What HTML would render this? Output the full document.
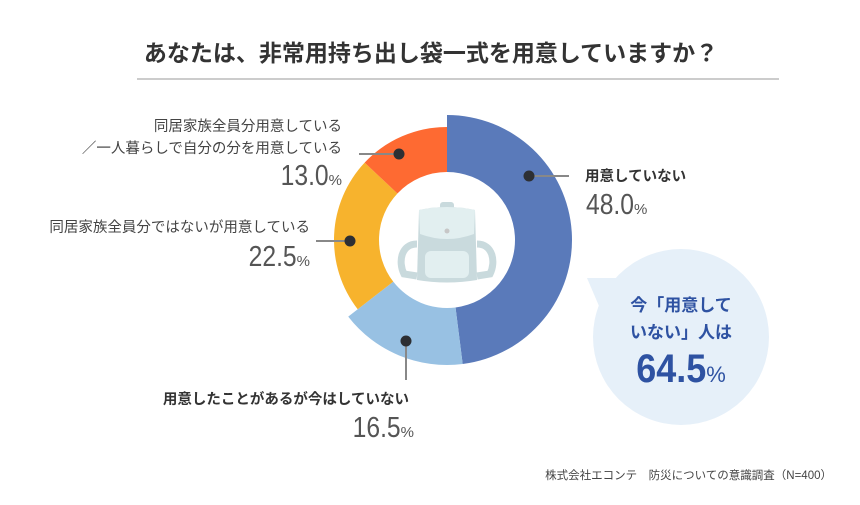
<!DOCTYPE html>
<html><head><meta charset="utf-8">
<style>
body{margin:0;background:#fff;}
svg text{font-family:"Liberation Sans","Noto Sans CJK JP",sans-serif;}
</style></head>
<body>
<svg id="chart" width="860" height="500" viewBox="0 0 860 500" xmlns="http://www.w3.org/2000/svg">
<rect width="860" height="500" fill="#fff"/>
<text x="431" y="61" text-anchor="middle" font-size="23" font-weight="bold" fill="#333">あなたは、非常用持ち出し袋一式を用意していますか？</text>
<line x1="137" y1="79" x2="779" y2="79" stroke="#999" stroke-width="1"/>
<g id="slices"></g>
<g id="icon" transform="translate(447,242)">
 <rect x="-7" y="-40" width="14" height="10" rx="3" fill="#c9dadd"/>
 <path d="M-30,2 C-46,2 -49,20 -43,32 L-30,34 M30,2 C46,2 49,20 43,32 L30,34" stroke="#c9dadd" stroke-width="7" fill="none"/>
 <path d="M-28,-32 Q0,-38 28,-32 L30,38 Q0,43 -30,38 Z" fill="#c9dadd"/>
 <path d="M-28,-32 Q0,-38 28,-32 L27,-8 Q0,2 -27,-8 Z" fill="#e2eff0"/>
 <rect x="-22" y="9" width="44" height="27" rx="6" fill="#e2eff0"/>
 <circle cx="0" cy="-11" r="2.5" fill="#c7c7c7"/>
</g>
<g>
 <circle cx="681" cy="337" r="88" fill="#e6f0f9"/>
 <path d="M587,278 L625,278 L605,320 Z" fill="#e6f0f9"/>
 <text x="681" y="311" text-anchor="middle" font-size="17" font-weight="bold" fill="#2e52a2">今「用意して</text>
 <text x="681" y="338" text-anchor="middle" font-size="17" font-weight="bold" fill="#2e52a2">いない」人は</text>
 <text x="681" y="382" text-anchor="middle" fill="#2e52a2"><tspan font-size="40" font-weight="bold" textLength="70" lengthAdjust="spacingAndGlyphs">64.5</tspan><tspan font-size="22">%</tspan></text>
</g>
<g fill="#444" font-size="14.5">
 <text x="585" y="181" font-weight="bold" fill="#333">用意していない</text>
 <text x="586" y="214" fill="#555"><tspan font-size="29" textLength="48" lengthAdjust="spacingAndGlyphs">48.0</tspan><tspan font-size="15">%</tspan></text>
 <text x="342" y="131" text-anchor="end">同居家族全員分用意している</text>
 <text x="342" y="153" text-anchor="end">／一人暮らしで自分の分を用意している</text>
 <text x="342" y="185" text-anchor="end" fill="#555"><tspan font-size="29" textLength="48" lengthAdjust="spacingAndGlyphs">13.0</tspan><tspan font-size="15">%</tspan></text>
 <text x="310" y="232" text-anchor="end">同居家族全員分ではないが用意している</text>
 <text x="310" y="266" text-anchor="end" fill="#555"><tspan font-size="29" textLength="48" lengthAdjust="spacingAndGlyphs">22.5</tspan><tspan font-size="15">%</tspan></text>
 <text x="409" y="404" text-anchor="end" font-weight="bold" fill="#333">用意したことがあるが今はしていない</text>
 <text x="414" y="437" text-anchor="end" fill="#555"><tspan font-size="29" textLength="48" lengthAdjust="spacingAndGlyphs">16.5</tspan><tspan font-size="15">%</tspan></text>
</g>
<text x="832" y="479" text-anchor="end" font-size="11.5" fill="#444">株式会社エコンテ　防災についての意識調査（N=400）</text>
</svg>
<script>
const categories=["用意していない","用意したことがあるが今はしていない","同居家族全員分ではないが用意している","同居家族全員分用意している／一人暮らしで自分の分を用意している"];
const values=[48.0,16.5,22.5,13.0];
const colors=["#5a7aba","#98c1e3","#f7b32d","#fe6a32"];
const outerR=[125,125,113,113];
const cx=447,cy=240,innerR=68;
const ns="http://www.w3.org/2000/svg";
const g=document.getElementById("slices");
const total=values.reduce((a,b)=>a+b,0);
function pt(r,a){return [cx+r*Math.sin(a),cy-r*Math.cos(a)];}
let start=0;
const leaders=[[569,176],[406,380],[316,241],[359,154]];
values.forEach((v,i)=>{
 const a0=start/total*2*Math.PI,a1=(start+v)/total*2*Math.PI;
 start+=v;
 const R=outerR[i],large=(a1-a0)>Math.PI?1:0;
 const p0=pt(R,a0),p1=pt(R,a1),q1=pt(innerR,a1),q0=pt(innerR,a0);
 const path=document.createElementNS(ns,"path");
 path.setAttribute("d",`M${p0[0]},${p0[1]} A${R},${R} 0 ${large} 1 ${p1[0]},${p1[1]} L${q1[0]},${q1[1]} A${innerR},${innerR} 0 ${large} 0 ${q0[0]},${q0[1]} Z`);
 path.setAttribute("fill",colors[i]);
 
 
 g.appendChild(path);
});
const dots=[[529,176],[406,341],[350,241],[399,154]];
dots.forEach((d,i)=>{
 const l=document.createElementNS(ns,"line");
 l.setAttribute("x1",d[0]);l.setAttribute("y1",d[1]);
 l.setAttribute("x2",leaders[i][0]);l.setAttribute("y2",leaders[i][1]);
 l.setAttribute("stroke","#888");l.setAttribute("stroke-width","2");
 
 
 g.appendChild(l);
 const c=document.createElementNS(ns,"circle");
 c.setAttribute("cx",d[0]);c.setAttribute("cy",d[1]);c.setAttribute("r","5.5");c.setAttribute("fill","#2d2f33");
 
 
 g.appendChild(c);
});
</script>
</body></html>
